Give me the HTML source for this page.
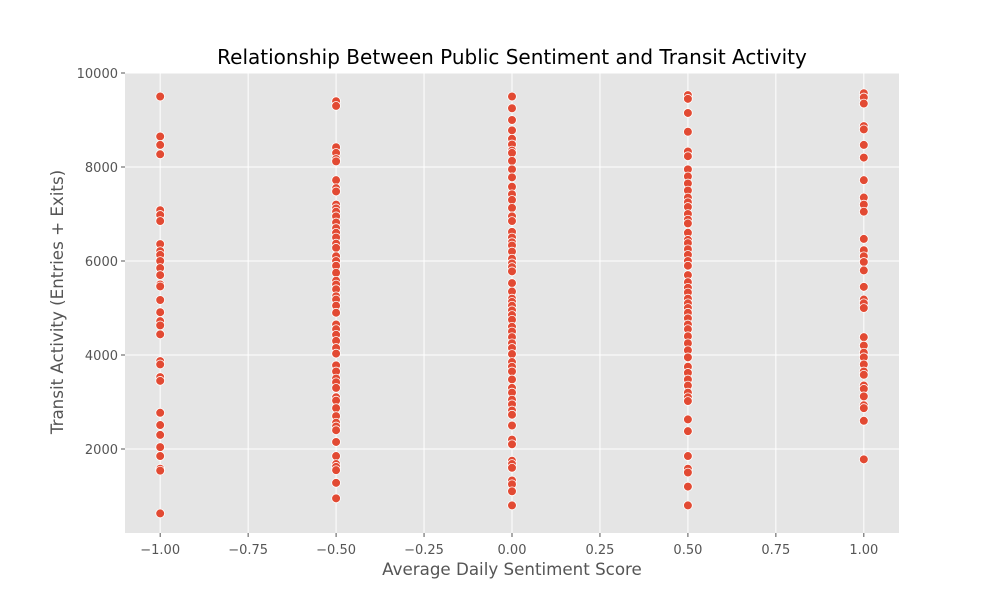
<!DOCTYPE html>
<html><head><meta charset="utf-8"><style>
body{margin:0;background:#fff;}
svg{display:block;font-family:"DejaVu Sans","Liberation Sans",sans-serif;}
</style></head><body>
<svg id="chart" width="1000" height="600" viewBox="0 0 1000 600">
<rect x="125" y="73" width="774" height="460" fill="#E5E5E5"/>
<g id="grid"></g>
<g id="points"></g>
<g id="xticks"></g>
<g id="yticks"></g>
<text x="512" y="64" text-anchor="middle" font-size="20" fill="#000">Relationship Between Public Sentiment and Transit Activity</text>
<text x="512" y="575" text-anchor="middle" font-size="16.7" fill="#555">Average Daily Sentiment Score</text>
<text transform="translate(63,302) rotate(-90)" text-anchor="middle" font-size="16.7" fill="#555">Transit Activity (Entries + Exits)</text>
</svg>
<script>
const xTicks=[-1.0,-0.75,-0.5,-0.25,0,0.25,0.5,0.75,1.0];
const xTickLabels=["−1.00","−0.75","−0.50","−0.25","0.00","0.25","0.50","0.75","1.00"];
const yTicks=[2000,4000,6000,8000,10000];
const yTickLabels=["2000","4000","6000","8000","10000"];
const sentimentCategories=[-1.0,-0.5,0,0.5,1.0];
const seriesNeg100=[9500,8650,8470,8270,7080,6980,6850,6360,6210,6130,6000,5850,5700,5500,5460,5170,4910,4720,4630,4440,3870,3800,3530,3450,2770,2510,2300,2040,1850,1580,1540,630];
const seriesNeg050=[9400,9300,8420,8300,8170,8120,7720,7550,7480,7200,7120,7050,6950,6820,6700,6600,6500,6370,6280,6100,6000,5900,5750,5580,5500,5400,5250,5180,5050,4900,4650,4550,4430,4300,4150,4030,3780,3650,3500,3420,3300,3100,3030,2870,2700,2560,2480,2400,2150,1850,1680,1620,1550,1280,950];
const seriesZero=[9500,9250,9000,8780,8600,8480,8350,8300,8130,7950,7780,7580,7420,7300,7130,6950,6850,6620,6500,6400,6330,6200,6050,5950,5870,5780,5530,5350,5200,5130,5050,4950,4850,4750,4600,4500,4380,4250,4150,4020,3850,3750,3650,3480,3300,3200,3050,2950,2820,2730,2500,2200,2100,1750,1680,1600,1330,1250,1100,800];
const seriesPos050=[9530,9450,9150,8750,8330,8230,7950,7800,7650,7500,7350,7250,7150,7000,6880,6800,6600,6450,6380,6250,6130,6000,5900,5700,5550,5430,5330,5200,5100,5000,4900,4780,4650,4550,4400,4250,4100,3950,3750,3620,3480,3350,3200,3100,3020,2630,2380,1850,1580,1500,1200,800];
const seriesPos100=[9570,9480,9350,8870,8800,8470,8200,7720,7350,7200,7050,6470,6230,6100,5980,5800,5450,5180,5100,5000,4380,4200,4050,3950,3800,3650,3580,3350,3280,3120,2930,2870,2600,1780];
const allSeries=[seriesNeg100,seriesNeg050,seriesZero,seriesPos050,seriesPos100];

const NS="http://www.w3.org/2000/svg";
const X0=125,X1=899,Y0=73,Y1=533;
const xMin=-1.1,xMax=1.1,yMin=212.8,yMax=10000;
function xScale(v){return X0+(v-xMin)/(xMax-xMin)*(X1-X0);}
function yScale(v){return Y1-(v-yMin)/(yMax-yMin)*(Y1-Y0);}
function mk(tag,attrs,parent){const e=document.createElementNS(NS,tag);for(const k in attrs)e.setAttribute(k,attrs[k]);parent.appendChild(e);return e;}
const grid=document.getElementById('grid'),xt=document.getElementById('xticks'),yt=document.getElementById('yticks'),pts=document.getElementById('points');
xTicks.forEach((t,i)=>{
  const x=xScale(t);
  const gl=mk('line',{x1:x,x2:x,y1:Y0,y2:Y1,stroke:'#fff','stroke-width':1},grid);
  
  
  const tk=mk('line',{x1:x,x2:x,y1:Y1,y2:Y1+4,stroke:'#555','stroke-width':1},xt);
  
  
  const lb=mk('text',{x:x,y:Y1+21,'text-anchor':'middle','font-size':13,fill:'#555'},xt);
  lb.textContent=xTickLabels[i];
  
  
});
yTicks.forEach((t,i)=>{
  const y=yScale(t);
  const gl=mk('line',{x1:X0,x2:X1,y1:y,y2:y,stroke:'#fff','stroke-width':1},grid);
  
  
  const tk=mk('line',{x1:X0-4,x2:X0,y1:y,y2:y,stroke:'#555','stroke-width':1},yt);
  
  
  const lb=mk('text',{x:X0-7,y:y+5,'text-anchor':'end','font-size':13,fill:'#555'},yt);
  lb.textContent=yTickLabels[i];
  
  
});
allSeries.forEach((s,ci)=>{
  s.forEach(v=>{
    const c=mk('circle',{cx:xScale(sentimentCategories[ci]),cy:yScale(v),r:4.4,fill:'#E24A33',stroke:'#fff','stroke-width':0.8},pts);
    
    
  });
});
</script>
</body></html>
